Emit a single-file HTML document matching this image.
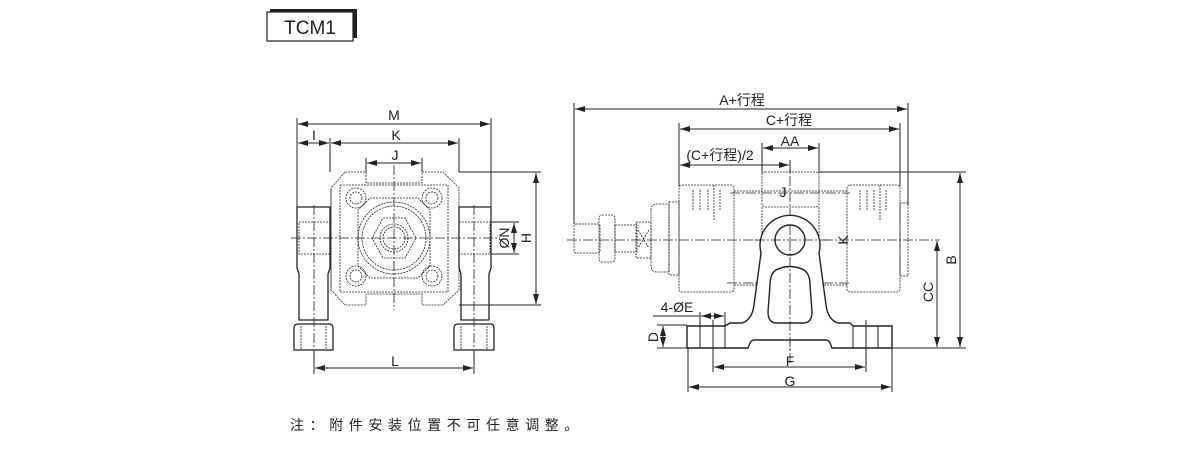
<!DOCTYPE html>
<html><head><meta charset="utf-8"><style>
html,body{margin:0;padding:0;background:#fff;}
svg{display:block;}
text{font-family:"Liberation Sans","Noto Sans CJK SC",sans-serif;fill:#222;}
</style></head><body>
<svg width="1200" height="450" viewBox="0 0 1200 450" xmlns="http://www.w3.org/2000/svg">
<defs>
<marker id="a" viewBox="0 0 10 6" refX="10" refY="3" markerWidth="10" markerHeight="6" orient="auto-start-reverse" markerUnits="userSpaceOnUse"><path d="M0,0 L10,3 L0,6 z" fill="#222"/></marker>
</defs>
<rect x="270" y="9" width="87" height="29" fill="#222"/>
<rect x="267" y="12" width="86" height="29" fill="#fff" stroke="#222" stroke-width="1.2"/>
<text x="310" y="34" font-size="19" text-anchor="middle">TCM1</text>

<g stroke="#222" fill="none" stroke-width="1">
<line x1="297" y1="118" x2="297" y2="207"/>
<line x1="491" y1="118" x2="491" y2="207"/>
<line x1="330" y1="138" x2="330" y2="172"/>
<line x1="459" y1="138" x2="459" y2="172"/>
<line x1="366" y1="158" x2="366" y2="172"/>
<line x1="422" y1="158" x2="422" y2="172"/>
<line x1="298" y1="124" x2="490" y2="124" marker-start="url(#a)" marker-end="url(#a)"/>
<line x1="298" y1="143" x2="329" y2="143" marker-start="url(#a)" marker-end="url(#a)"/>
<line x1="331" y1="143" x2="458" y2="143" marker-start="url(#a)" marker-end="url(#a)"/>
<line x1="367" y1="163" x2="421" y2="163" marker-start="url(#a)" marker-end="url(#a)"/>
<line x1="459" y1="172" x2="541" y2="172"/>
<line x1="459" y1="305" x2="541" y2="305"/>
<line x1="491" y1="222" x2="519" y2="222"/>
<line x1="491" y1="254" x2="519" y2="254"/>
<line x1="536" y1="173" x2="536" y2="304" marker-start="url(#a)" marker-end="url(#a)"/>
<line x1="514" y1="223" x2="514" y2="253" marker-start="url(#a)" marker-end="url(#a)"/>
<line x1="314" y1="350" x2="314" y2="374"/>
<line x1="474" y1="350" x2="474" y2="374"/>
<line x1="315" y1="368" x2="473" y2="368" marker-start="url(#a)" marker-end="url(#a)"/>
<path d="M297,207 H330 V268 L328,274 V320 H299 V274 L297,268 Z" stroke-width="1.3"/>
<path d="M459,207 H491 V268 L489,274 V320 H461 V274 L459,268 Z" stroke-width="1.3"/>
<path d="M294,350 V328 Q294,324 298,324 H329 Q333,324 333,328 V350 Z" stroke-width="1.3"/>
<path d="M454,350 V328 Q454,324 458,324 H490 Q494,324 494,328 V350 Z" stroke-width="1.3"/>
<g stroke-dasharray="2,1" stroke-width="0.8">
<rect x="299" y="222" width="31" height="32"/><rect x="459" y="222" width="31" height="32"/>
<line x1="301" y1="326" x2="301" y2="349"/><line x1="326" y1="326" x2="326" y2="349"/>
<line x1="461" y1="326" x2="461" y2="349"/><line x1="487" y1="326" x2="487" y2="349"/>
<path d="M345,172 H366 V183 H422 V172 H443 L459,188 V290 L443,305 H422 V294 H366 V305 H345 L331,290 V188 Z"/>
<path d="M340,185 H448 V292 H340 Z"/>
<path d="M370,198 H418 L430,210 V266 L418,278 H370 L358,266 V210 Z"/>
<circle cx="394" cy="238" r="36"/>
<circle cx="394" cy="238" r="32"/>
<path d="M383,218 H405 L416,238 L405,258 H383 L372,238 Z"/>
<circle cx="394" cy="238" r="14"/>
<circle cx="394" cy="238" r="11"/>
<circle cx="356" cy="198" r="10"/><circle cx="356" cy="198" r="6"/>
<circle cx="432" cy="198" r="10"/><circle cx="432" cy="198" r="6"/>
<circle cx="356" cy="276" r="10"/><circle cx="356" cy="276" r="6"/>
<circle cx="432" cy="276" r="10"/><circle cx="432" cy="276" r="6"/>
<line x1="331" y1="190" x2="331" y2="290"/>
</g>
<g stroke-dasharray="10,2,2,2" stroke-width="0.8">
<line x1="291" y1="238" x2="500" y2="238"/>
<line x1="394" y1="165" x2="394" y2="310"/>
<line x1="314" y1="205" x2="314" y2="355"/>
<line x1="474" y1="205" x2="474" y2="355"/>
</g>

<line x1="574" y1="103" x2="574" y2="224"/>
<line x1="908" y1="103" x2="908" y2="205"/>
<line x1="679" y1="123" x2="679" y2="186"/>
<line x1="900" y1="123" x2="900" y2="186"/>
<line x1="762" y1="143" x2="762" y2="173"/>
<line x1="819" y1="143" x2="819" y2="173"/>
<line x1="790" y1="160" x2="790" y2="173"/>
<line x1="575" y1="109" x2="907" y2="109" marker-start="url(#a)" marker-end="url(#a)"/>
<line x1="680" y1="129" x2="899" y2="129" marker-start="url(#a)" marker-end="url(#a)"/>
<line x1="763" y1="148" x2="818" y2="148" marker-start="url(#a)" marker-end="url(#a)"/>
<line x1="680" y1="165" x2="789" y2="165" marker-start="url(#a)" marker-end="url(#a)"/>
<line x1="819" y1="172" x2="966" y2="172"/>
<line x1="892" y1="348" x2="966" y2="348"/>
<line x1="960" y1="173" x2="960" y2="347" marker-start="url(#a)" marker-end="url(#a)"/>
<line x1="937" y1="241" x2="937" y2="347" marker-start="url(#a)" marker-end="url(#a)"/>
<line x1="657" y1="325" x2="687" y2="325"/>
<line x1="657" y1="348" x2="687" y2="348"/>
<line x1="663" y1="326" x2="663" y2="347" marker-start="url(#a)" marker-end="url(#a)"/>
<line x1="653" y1="316" x2="700" y2="316"/>
<line x1="700" y1="312" x2="700" y2="326"/>
<line x1="725" y1="312" x2="725" y2="326"/>
<line x1="701" y1="316" x2="724" y2="316" marker-start="url(#a)" marker-end="url(#a)"/>
<line x1="713" y1="320" x2="713" y2="372"/>
<line x1="866" y1="320" x2="866" y2="372"/>
<line x1="688" y1="348" x2="688" y2="392"/>
<line x1="892" y1="348" x2="892" y2="392"/>
<line x1="714" y1="367" x2="865" y2="367" marker-start="url(#a)" marker-end="url(#a)"/>
<line x1="689" y1="387" x2="891" y2="387" marker-start="url(#a)" marker-end="url(#a)"/>
<g stroke-dasharray="2,1" stroke-width="0.8">
<rect x="574" y="224" width="26" height="29" rx="2"/>
<rect x="599" y="215" width="16" height="47" rx="3"/>
<rect x="615" y="225" width="22" height="27"/>
<rect x="636" y="222" width="15" height="36"/>
<path d="M638,230 L649,248 M649,230 L638,248"/>
<path d="M651,210 Q651,204 657,204 H669 V272 H657 Q651,272 651,266 Z"/>
<rect x="669" y="202" width="10" height="73"/>
<rect x="679" y="185" width="55" height="107" rx="3"/>
<rect x="847" y="185" width="53" height="107" rx="3"/>
<rect x="900" y="203" width="8" height="73"/>
<rect x="762" y="172" width="57" height="35" rx="3"/>
<line x1="734" y1="191" x2="847" y2="191"/>
<line x1="734" y1="285" x2="847" y2="285"/>
<path d="M693,190 V210 M700,190 V210 M708,190 V210 M714,185 V220 M720,190 V210"/>
<path d="M860,190 V210 M867,190 V210 M874,190 V210 M880,185 V220 M886,190 V210"/>
<line x1="762" y1="207" x2="762" y2="292"/>
<line x1="819" y1="207" x2="819" y2="292"/>
</g>
<g stroke-dasharray="10,2,2,2" stroke-width="0.8">
<line x1="567" y1="240" x2="940" y2="240"/>
<line x1="790" y1="160" x2="790" y2="350"/>
<line x1="730" y1="193" x2="850" y2="193"/>
<line x1="727" y1="283" x2="850" y2="283"/>
</g>
<g stroke-width="1.4">
<path d="M687,326 H725 L730,323 H742 Q752,320 754,305 L761,253 A30,30 0 1,1 819,253 L826,305 Q828,320 838,323 H850 L853,326 H892 V348 H832 L830,343 Q829,340 825,340 H755 Q751,340 750,343 L748,348 H687 Z" fill="#fff"/>
<circle cx="790" cy="240" r="15"/>
<path d="M776,270 Q790,263 804,270 Q810,274 810,285 L812,312 Q812,323 803,323 H777 Q768,323 768,312 L770,285 Q770,274 776,270 Z"/>
<line x1="700" y1="326" x2="700" y2="348" stroke-width="1"/>
<line x1="713" y1="326" x2="713" y2="348" stroke-width="1"/>
<line x1="725" y1="326" x2="725" y2="348" stroke-width="1"/>
<line x1="853" y1="326" x2="853" y2="348" stroke-width="1"/>
<line x1="866" y1="326" x2="866" y2="348" stroke-width="1"/>
<line x1="878" y1="326" x2="878" y2="348" stroke-width="1"/>
</g>
<line x1="790" y1="225" x2="790" y2="365" stroke-dasharray="10,2,2,2" stroke-width="0.8"/>
<line x1="755" y1="240" x2="830" y2="240" stroke-dasharray="10,2,2,2" stroke-width="0.8"/>
</g>

<g font-size="14">
<text x="394" y="120" text-anchor="middle">M</text>
<text x="314" y="140" text-anchor="middle">I</text>
<text x="396" y="140" text-anchor="middle">K</text>
<text x="395" y="160" text-anchor="middle">J</text>
<text x="395" y="366" text-anchor="middle">L</text>
<text transform="translate(531,238) rotate(-90)" text-anchor="middle">H</text>
<text transform="translate(509,238) rotate(-90)" text-anchor="middle">ØN</text>
<text x="742" y="105" text-anchor="middle">A+行程</text>
<text x="789" y="125" text-anchor="middle">C+行程</text>
<text x="790" y="146" text-anchor="middle">AA</text>
<text x="720" y="160" text-anchor="middle">(C+行程)/2</text>
<text x="783" y="197" text-anchor="middle">J</text>
<text transform="translate(848,240) rotate(-90)" text-anchor="middle">K</text>
<text transform="translate(956,260) rotate(-90)" text-anchor="middle">B</text>
<text transform="translate(933,292) rotate(-90)" text-anchor="middle">CC</text>
<text transform="translate(658,337) rotate(-90)" text-anchor="middle">D</text>
<text x="677" y="312" text-anchor="middle">4-ØE</text>
<text x="790" y="366" text-anchor="middle">F</text>
<text x="790" y="386" text-anchor="middle">G</text>
</g>
<text x="290" y="430" font-size="14" letter-spacing="5.6">注：附件安装位置不可任意调整。</text>
</svg>
</body></html>
